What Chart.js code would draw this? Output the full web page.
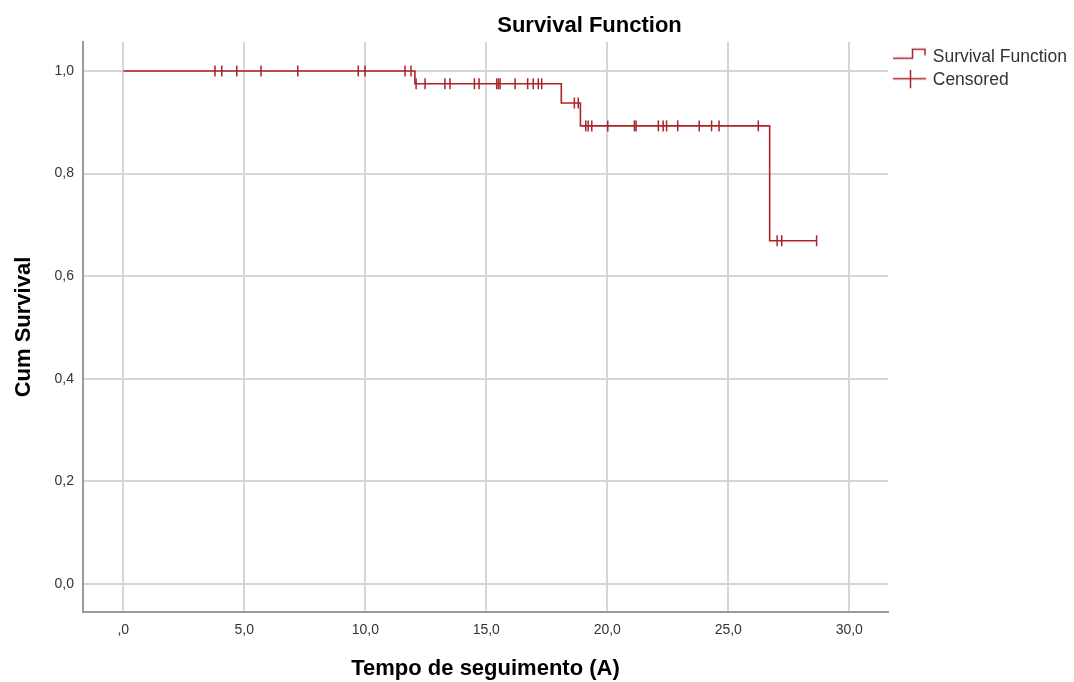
<!DOCTYPE html>
<html>
<head>
<meta charset="utf-8">
<script src="https://cdn.jsdelivr.net/npm/chart.js@4/dist/chart.umd.min.js"></script>
<style>
html,body{margin:0;padding:0;background:#fff;overflow:hidden}
canvas{display:block}
</style>
</head>
<body>
<canvas id="c" width="1074" height="682" style="width:1074px;height:682px"></canvas>
<script>
// ---- data ----
const chartTitle = 'Survival Function';
const xAxisTitle = 'Tempo de seguimento (A)';
const yAxisTitle = 'Cum Survival';
const seriesNames = ['Survival Function', 'Censored'];

// Kaplan-Meier step points (time, cumulative survival)
const stepTimes    = [0, 12.05, 18.10, 18.89, 26.71, 28.65];
const stepSurvival = [1.0, 0.975, 0.9376, 0.893, 0.669, 0.669];

// censored observations (time, survival level at that time)
const censoredTimes = [
  3.79, 4.07, 4.69, 5.69, 7.21, 9.71, 9.99, 11.64, 11.89,
  12.10, 12.47, 13.29, 13.50, 14.51, 14.70, 15.43, 15.50, 15.57, 16.19, 16.71, 16.94, 17.15, 17.29,
  18.64, 18.80,
  19.11, 19.21, 19.36, 20.02, 21.12, 21.19, 22.11, 22.31, 22.45, 22.91, 23.80, 24.31, 24.62, 26.24,
  27.02, 27.21, 28.65
];
const censoredSurvival = [
  1.0, 1.0, 1.0, 1.0, 1.0, 1.0, 1.0, 1.0, 1.0,
  0.975, 0.975, 0.975, 0.975, 0.975, 0.975, 0.975, 0.975, 0.975, 0.975, 0.975, 0.975, 0.975, 0.975,
  0.9376, 0.9376,
  0.893, 0.893, 0.893, 0.893, 0.893, 0.893, 0.893, 0.893, 0.893, 0.893, 0.893, 0.893, 0.893, 0.893,
  0.669, 0.669, 0.669
];

const xTickValues = [0, 5, 10, 15, 20, 25, 30];
const xTickLabels = [',0', '5,0', '10,0', '15,0', '20,0', '25,0', '30,0'];
const yTickValues = [0, 0.2, 0.4, 0.6, 0.8, 1.0];
const yTickLabels = ['0,0', '0,2', '0,4', '0,6', '0,8', '1,0'];

// ---- styling ----
const RED = '#ad2226';
const FONT = '"Liberation Sans", Arial, Helvetica, sans-serif';
const GRID = '#d6d6d6';
const AXIS = '#9a9a9a';

function makeIcon(kind) {
  const cv = document.createElement('canvas');
  cv.width = 34; cv.height = 20;
  const g = cv.getContext('2d');
  g.strokeStyle = RED; g.lineWidth = 1.5;
  g.beginPath();
  if (kind === 0) {
    g.moveTo(1, 11.5); g.lineTo(20.5, 11.5); g.lineTo(20.5, 2.5); g.lineTo(33, 2.5); g.lineTo(33, 8.5);
  } else {
    g.moveTo(1, 8.5); g.lineTo(34, 8.5);
    g.moveTo(18.5, 0); g.lineTo(18.5, 18);
  }
  g.stroke();
  return cv;
}
const legendIcons = [makeIcon(0), makeIcon(1)];

const titlePlugin = {
  id: 'topTitle',
  afterDraw(chart) {
    const ctx = chart.ctx;
    ctx.save();
    ctx.font = 'bold 22px ' + FONT;
    ctx.fillStyle = '#000';
    ctx.textAlign = 'center';
    ctx.textBaseline = 'alphabetic';
    ctx.fillText(chartTitle, 589.5, 31.5);
    ctx.restore();
  }
};

new Chart(document.getElementById('c'), {
  type: 'scatter',
  data: {
    datasets: [
      {
        label: seriesNames[0],
        data: stepTimes.map((t, i) => ({x: t, y: stepSurvival[i]})),
        showLine: true,
        stepped: 'before',
        borderColor: RED,
        borderWidth: 1.6,
        pointRadius: 0,
        fill: false
      },
      {
        label: seriesNames[1],
        data: censoredTimes.map((t, i) => ({x: t, y: censoredSurvival[i]})),
        showLine: false,
        pointStyle: 'line',
        rotation: 90,
        pointRadius: 5.5,
        pointBorderWidth: 1.5,
        borderColor: RED,
        backgroundColor: RED
      }
    ]
  },
  options: {
    responsive: false,
    animation: false,
    devicePixelRatio: 1,
    layout: { padding: { top: 42, left: 0, right: 0, bottom: 0 } },
    plugins: {
      tooltip: { enabled: false },
      title: { display: false },
      legend: {
        display: true,
        position: 'right',
        align: 'start',
        maxWidth: 186,
        labels: {
          usePointStyle: true,
          pointStyleWidth: 30,
          padding: 6,
          color: '#333',
          font: { family: FONT, size: 17.5 },
          generateLabels: chart => chart.data.datasets.map((ds, i) => ({
            text: ds.label,
            pointStyle: legendIcons[i],
            fillStyle: 'transparent',
            strokeStyle: 'transparent',
            lineWidth: 0,
            hidden: false,
            datasetIndex: i,
            fontColor: '#333'
          }))
        }
      }
    },
    scales: {
      x: {
        type: 'linear',
        min: -1.665,
        max: 31.6,
        afterBuildTicks: s => { s.ticks = xTickValues.map(v => ({value: v})); },
        afterFit: s => { s.height = 70; },
        grid: { color: GRID, lineWidth: 2, drawTicks: false },
        border: { display: true, color: AXIS, width: 2 },
        ticks: {
          padding: 10,
          color: '#333',
          font: { family: FONT, size: 14 },
          maxRotation: 0,
          callback: (v) => { const k = xTickValues.indexOf(v); return k >= 0 ? xTickLabels[k] : ''; }
        },
        title: {
          display: true,
          text: xAxisTitle,
          color: '#000',
          font: { family: FONT, size: 22, weight: 'bold' },
          padding: { top: 0, bottom: 0 }
        }
      },
      y: {
        type: 'linear',
        min: -0.0546,
        max: 1.0565,
        afterBuildTicks: s => { s.ticks = yTickValues.map(v => ({value: v})); },
        afterFit: s => { s.width = 83; },
        grid: { color: GRID, lineWidth: 2, drawTicks: false },
        border: { display: true, color: AXIS, width: 2 },
        ticks: {
          padding: 9,
          color: '#333',
          font: { family: FONT, size: 14 },
          callback: (v) => { const k = yTickValues.findIndex(t => Math.abs(t - v) < 1e-9); return k >= 0 ? yTickLabels[k] : ''; }
        },
        title: {
          display: true,
          text: yAxisTitle,
          color: '#000',
          font: { family: FONT, size: 22, weight: 'bold' },
          padding: { top: 11, bottom: 0 }
        }
      }
    }
  },
  plugins: [titlePlugin]
});
</script>
</body>
</html>
